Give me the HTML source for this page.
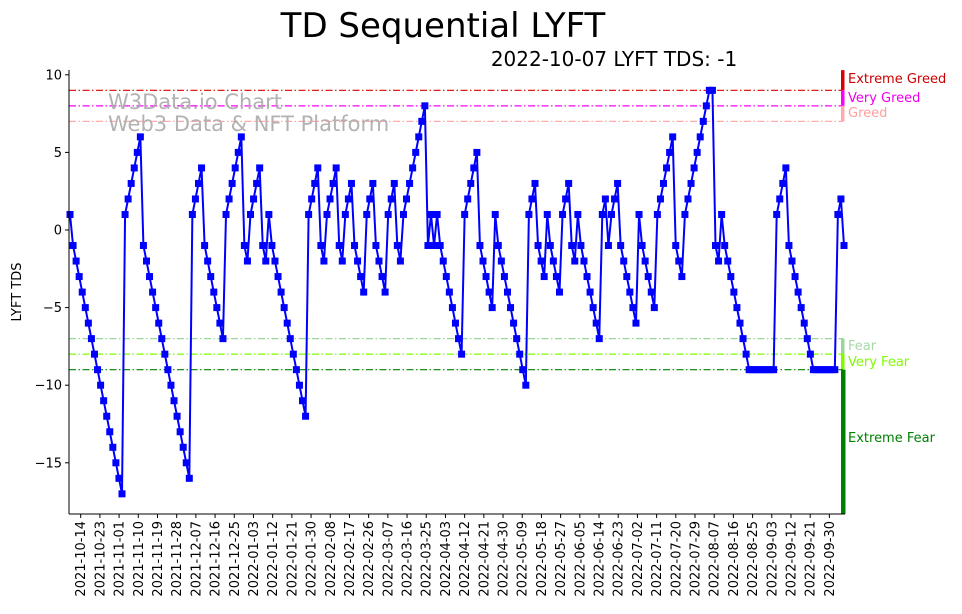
<!DOCTYPE html>
<html><head><meta charset="utf-8">
<style>
html,body{margin:0;padding:0;background:#fff;}
svg{display:block;font-family:"DejaVu Sans","Liberation Sans",sans-serif;}
</style></head>
<body>
<svg id="chart" width="962" height="614" viewBox="0 0 962 614" xmlns="http://www.w3.org/2000/svg">
<text x="443" y="37" font-size="34" text-anchor="middle" fill="#000">TD Sequential LYFT</text>
<text x="614" y="66" font-size="20" text-anchor="middle" fill="#000">2022-10-07 LYFT TDS: -1</text>
<text transform="translate(21,292) rotate(-90)" font-size="13" text-anchor="middle" fill="#000">LYFT TDS</text>
<g id="zones"></g>
<text x="108" y="109" font-size="21" fill="#aaa" opacity="0.9">W3Data.io Chart</text>
<text x="108" y="131" font-size="21" fill="#aaa" opacity="0.9">Web3 Data &amp; NFT Platform</text>
<g id="series"></g>
<g id="axes"></g>
</svg>
<script>
const tdsValues = [1,-1,-2,-3,-4,-5,-6,-7,-8,-9,-10,-11,-12,-13,-14,-15,-16,-17,
1,2,3,4,5,6,
-1,-2,-3,-4,-5,-6,-7,-8,-9,-10,-11,-12,-13,-14,-15,-16,
1,2,3,4,
-1,-2,-3,-4,-5,-6,-7,
1,2,3,4,5,6,
-1,-2,
1,2,3,4,
-1,-2,1,-1,-2,-3,
-4,-5,-6,-7,-8,-9,-10,-11,-12,
1,2,3,4,
-1,-2,
1,2,3,4,
-1,-2,
1,2,3,
-1,-2,-3,-4,
1,2,3,
-1,-2,-3,-4,
1,2,3,
-1,-2,
1,2,3,4,5,6,7,8,
-1,1,-1,1,-1,
-2,-3,-4,-5,-6,-7,-8,
1,2,3,4,5,
-1,-2,-3,-4,-5,
1,
-1,-2,-3,-4,-5,-6,-7,-8,-9,-10,
1,2,3,
-1,-2,-3,
1,
-1,-2,-3,-4,
1,2,3,
-1,-2,
1,-1,-2,-3,-4,-5,-6,-7,
1,2,-1,1,2,3,
-1,-2,-3,-4,-5,-6,
1,
-1,-2,-3,-4,-5,
1,2,3,4,5,6,
-1,-2,-3,
1,2,3,4,5,6,7,8,9,9,
-1,-2,
1,
-1,-2,-3,-4,-5,-6,-7,-8,-9,-9,-9,-9,-9,-9,-9,-9,-9,
1,2,3,4,
-1,-2,-3,-4,-5,-6,-7,-8,-9,-9,-9,-9,-9,-9,-9,-9,
1,2,-1];
const yTicks = [10,5,0,-5,-10,-15];
const xTickStart = "2021-10-14";
const xTickStepDays = 9;
const xTickCount = 40;
const zoneLevels = [9,8,7,-7,-8,-9];
const zoneNames = ["Extreme Greed","Very Greed","Greed","Fear","Very Fear","Extreme Fear"];

const NS="http://www.w3.org/2000/svg";
const X0=70, X1=844, AX0=69, AX1=845, YTOP=70, YBOT=514;
function yScale(v){return 230 - v*15.52;}
function xIndex(i){return X0 + i*(X1-X0)/(tdsValues.length-1);}
const dayPx=2.133, tick0X=80.7;
function mk(tag,attrs,parent){const e=document.createElementNS(NS,tag);for(const k in attrs)e.setAttribute(k,attrs[k]);parent.appendChild(e);return e;}

const zones=document.getElementById('zones');
const zoneColors=["#dd0000","#ff00ff","#ffaaaa","#99d699","#7cfc00","#008000"];
const labelColors=["#cc0000","#ee00ee","#ff9f9f","#a8d8a8","#7cfc00","#008000"];
const bandTops=[10.3,9,8,-7,-8,-9], bandBots=[9,8,7,-8,-9,-18.3];
zoneLevels.forEach((lv,i)=>{
  const l=mk('line',{x1:AX0,x2:AX1-2,y1:yScale(lv),y2:yScale(lv),stroke:zoneColors[i],'stroke-width':1.2,'stroke-dasharray':'7,2.5,1.5,2.5'},zones);
  
  
  const bt=i<3?yScale(bandTops[i]):yScale(bandTops[i]);
  const b=mk('rect',{x:841,y:bt,width:i==5?4.5:3.5,height:yScale(bandBots[i])-bt,fill:zoneColors[i]},zones);
  
  
  const ty=i==5?442:(i<3?[83,102,117][i]:[350,366][i-3]);
  const t=mk('text',{x:848,y:ty,'font-size':13,fill:labelColors[i]},zones);
  t.textContent=zoneNames[i];
  
  
});

const series=document.getElementById('series');
const pts=tdsValues.map((v,i)=>xIndex(i).toFixed(2)+','+yScale(v).toFixed(2)).join(' ');
const pl=mk('polyline',{points:pts,fill:'none',stroke:'#0000ff','stroke-width':2,'stroke-linejoin':'round'},series);


tdsValues.forEach((v,i)=>{
  const r=mk('rect',{x:xIndex(i)-3.5,y:yScale(v)-3.5,width:7,height:7,fill:'#0000ff'},series);
  
  
});

const axes=document.getElementById('axes');
const ya=mk('line',{x1:AX0,x2:AX0,y1:YTOP,y2:YBOT,stroke:'#000','stroke-width':1},axes);


const xa=mk('line',{x1:AX0,x2:AX1,y1:YBOT,y2:YBOT,stroke:'#000','stroke-width':1},axes);


yTicks.forEach(v=>{
  const y=yScale(v);
  const tk=mk('line',{x1:AX0-4,x2:AX0,y1:y,y2:y,stroke:'#000'},axes);
  
  
  const t=mk('text',{x:AX0-7,y:y+4.5,'font-size':13,'text-anchor':'end',fill:'#000'},axes);
  t.textContent=v<0?'\u2212'+(-v):String(v);
  
  
});
const d0=new Date(xTickStart+'T00:00:00Z');
for(let k=0;k<xTickCount;k++){
  const d=new Date(d0.getTime()+k*xTickStepDays*86400000);
  const x=tick0X+k*xTickStepDays*dayPx;
  const tk=mk('line',{x1:x,x2:x,y1:YBOT,y2:YBOT+4,stroke:'#000'},axes);
  
  
  const t=mk('text',{transform:`translate(${x+4.5},${YBOT+7}) rotate(-90)`,'font-size':13,'text-anchor':'end',fill:'#000'},axes);
  t.textContent=d.toISOString().slice(0,10);
  
  
}
</script>
</body></html>
